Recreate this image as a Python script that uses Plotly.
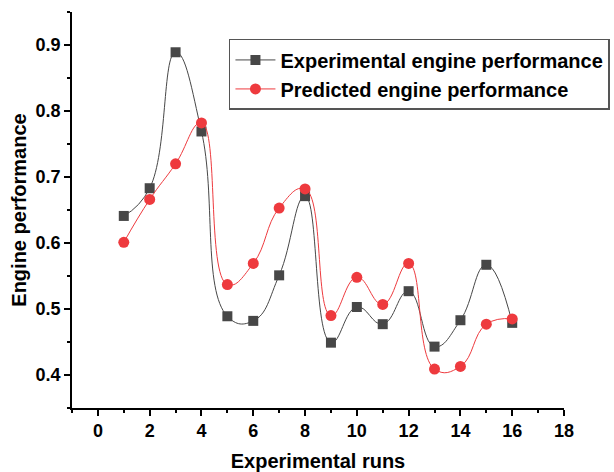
import plotly.graph_objects as go

runs = list(range(1, 17))
experimental = [0.641, 0.683, 0.889, 0.769, 0.489, 0.482, 0.551, 0.671,
                0.449, 0.503, 0.477, 0.527, 0.443, 0.483, 0.567, 0.479]
predicted = [0.601, 0.666, 0.720, 0.782, 0.537, 0.569, 0.653, 0.682,
             0.490, 0.548, 0.507, 0.569, 0.409, 0.413, 0.477, 0.485]
x_ticks = [0, 2, 4, 6, 8, 10, 12, 14, 16, 18]
y_ticks = [0.4, 0.5, 0.6, 0.7, 0.8, 0.9]

FONT = "Arial, Liberation Sans, sans-serif"
GRAY = "#474747"
RED = "#ee3a3e"

fig = go.Figure()
fig.add_trace(go.Scatter(
    x=runs, y=experimental, name="Experimental engine performance",
    mode="lines+markers",
    line=dict(color=GRAY, width=1, shape="spline", smoothing=1.3),
    marker=dict(symbol="square", size=10, color=GRAY),
))
fig.add_trace(go.Scatter(
    x=runs, y=predicted, name="Predicted engine performance",
    mode="lines+markers",
    line=dict(color=RED, width=1, shape="spline", smoothing=1.3),
    marker=dict(symbol="circle", size=11, color=RED),
))

fig.update_layout(
    width=614, height=472,
    margin=dict(l=72, r=50, t=12, b=64, autoexpand=False),
    paper_bgcolor="white", plot_bgcolor="white",
    font=dict(family=FONT, color="black"),
    showlegend=True,
    legend=dict(
        x=0.319, y=0.932, xanchor="left", yanchor="top",
        bgcolor="white", bordercolor="#555555", borderwidth=1.5,
        font=dict(family=FONT, size=20, color="black", weight="bold"),
        tracegroupgap=0, itemwidth=40,
    ),
    xaxis=dict(
        range=[-1, 18], tickvals=x_ticks,
        showline=True, linecolor="black", linewidth=1.5,
        ticks="outside", ticklen=6, tickwidth=1.5, tickcolor="black",
        minor=dict(dtick=1, tick0=0, ticks="outside", ticklen=3, tickwidth=1.5, tickcolor="black"),
        showgrid=False, zeroline=False, automargin=False,
        tickfont=dict(family=FONT, size=18, color="black", weight="bold"),
        title=dict(text="Experimental runs", standoff=16,
                   font=dict(family=FONT, size=20, color="black", weight="bold")),
    ),
    yaxis=dict(
        range=[0.35, 0.95], tickvals=y_ticks, ticktext=["0.4", "0.5", "0.6", "0.7", "0.8", "0.9"],
        showline=True, linecolor="black", linewidth=1.5,
        ticks="outside", ticklen=6, tickwidth=1.5, tickcolor="black",
        minor=dict(dtick=0.05, tick0=0.35, ticks="outside", ticklen=3, tickwidth=1.5, tickcolor="black"),
        showgrid=False, zeroline=False, automargin=False,
        tickfont=dict(family=FONT, size=18, color="black", weight="bold"),
        title=dict(text="Engine performance", standoff=4,
                   font=dict(family=FONT, size=20, color="black", weight="bold")),
    ),
)

fig.write_html("out.html")
